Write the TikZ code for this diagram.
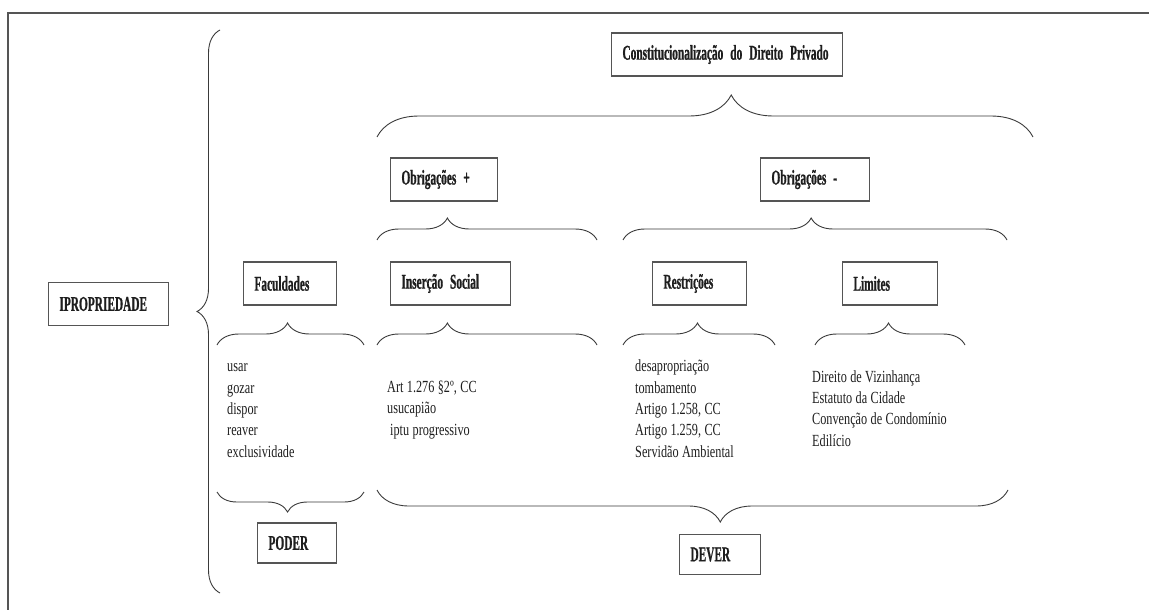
\documentclass[tikz,border=0pt]{standalone}
\usepackage{fontspec}
\setmainfont{Liberation Serif}
\newfontfamily\boxfont{Liberation Serif}[FakeStretch=0.54, FakeBold=0.8]
\newfontfamily\listfont{Liberation Serif}[FakeStretch=0.72]
\newcommand\fontecaixa{\boxfont\bfseries\fontsize{21}{24}\selectfont\setlength{\spaceskip}{3.2pt}}
\newcommand\fontelista{\listfont\fontsize{17}{21.3}\selectfont\setlength{\spaceskip}{3.4pt}}
\usetikzlibrary{decorations.pathreplacing}
\definecolor{linegray}{HTML}{555555}
\definecolor{bracegray}{HTML}{3A3A3A}
\definecolor{inkgray}{HTML}{1E1E1E}

\begin{document}
\begin{tikzpicture}
  [
    x=1pt, y=-1pt,
    caixa/.style={draw=linegray, line width=1.2pt, minimum height=43pt, inner xsep=11pt, text width=#1, align=left, text=inkgray, font=\fontecaixa},
    lista/.style={inner sep=0pt, anchor=base west, align=left, text=inkgray, font=\fontelista},
    chave/.style={draw=bracegray, line width=0.9pt, decorate, decoration={brace, amplitude=#1}}
  ]
  \useasboundingbox (0, 0) rectangle (1149, 610);
  \draw [linegray, line width=1.5pt] (8, 610) -- (8, 13) -- (1149, 13);

  \node [caixa=209pt] (const) at (727, 54.5) {Constitucionalização do Direito Privado};
  \node [caixa=85pt] (obpos) at (444, 179.5) {Obrigações +};
  \node [caixa=87pt] (obneg) at (815, 179.5) {Obrigações -};
  \node [caixa=98pt] (prop) at (108.5, 304) {IPROPRIEDADE};
  \node [caixa=71pt] (fac) at (290, 283.5) {Faculdades};
  \node [caixa=98pt] (ins) at (450.5, 283.5) {Inserção Social};
  \node [caixa=72pt] (restr) at (699.5, 283.5) {Restrições};
  \node [caixa=73pt] (lim) at (890, 283.5) {Limites};
  \node [caixa=57pt, minimum height=40pt] (poder) at (297, 543) {PODER};
  \node [caixa=59pt, minimum height=40pt] (dever) at (720, 554.5) {DEVER};

  % listas (ancoradas na ultima linha)
  \node [lista] (facitens) at (227, 457) {usar\\gozar\\dispor\\reaver\\exclusividade};
  \node [lista] (insitens) at (387, 435) {Art 1.276 §2º, CC\\usucapião\\\hspace{3pt}iptu progressivo};
  \node [lista] (restritens) at (635, 457) {desapropriação\\tombamento\\Artigo 1.258, CC\\Artigo 1.259, CC\\Servidão Ambiental};
  \node [lista] (limitens) at (812, 446) {Direito de Vizinhança\\Estatuto da Cidade\\Convenção de Condomínio\\Edilício};

  % chaves
  \draw [chave=23pt] (220, 593) -- (220, 30);
  \draw [chave=42pt, decoration={aspect=0.54}] (377, 137) -- (1033, 137);
  \draw [chave=22pt, decoration={aspect=0.32}] (377, 240) -- (597, 240);
  \draw [chave=22pt, decoration={aspect=0.49}] (623, 240) -- (1007, 240);
  \foreach \ini/\fim/\asp in {217/364/0.48, 377/597/0.32, 623/775/0.49, 815/965/0.49}{
    \draw [chave=22pt, decoration={aspect=\asp}] (\ini, 345) -- (\fim, 345);
  }
  \draw [chave=20pt, decoration={aspect=0.52}] (364, 492) -- (217, 492);
  \draw [chave=32pt, decoration={aspect=0.456}] (1008, 490) -- (377, 490);

\end{tikzpicture}
\end{document}
